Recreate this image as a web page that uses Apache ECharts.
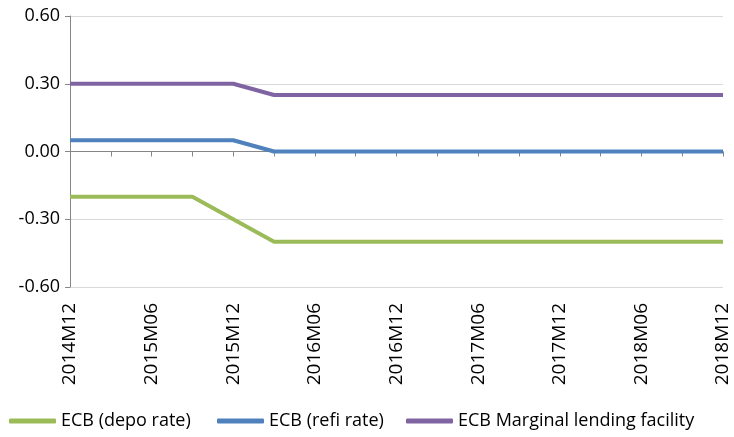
<!DOCTYPE html>
<html><head><meta charset="utf-8">
<script src="https://cdn.jsdelivr.net/npm/echarts@6/dist/echarts.min.js"></script>
<style>html,body{margin:0;padding:0;background:#fff}#c{width:734px;height:437px}</style>
</head><body><div id="c"></div>
<script>
const categories = ['2014M12','2015M03','2015M06','2015M09','2015M12','2016M03','2016M06','2016M09','2016M12','2017M03','2017M06','2017M09','2017M12','2018M03','2018M06','2018M09','2018M12'];
const depoRate = [-0.20,-0.20,-0.20,-0.20,-0.30,-0.40,-0.40,-0.40,-0.40,-0.40,-0.40,-0.40,-0.40,-0.40,-0.40,-0.40,-0.40];
const refiRate = [0.05,0.05,0.05,0.05,0.05,0.00,0.00,0.00,0.00,0.00,0.00,0.00,0.00,0.00,0.00,0.00,0.00];
const mlfRate = [0.30,0.30,0.30,0.30,0.30,0.25,0.25,0.25,0.25,0.25,0.25,0.25,0.25,0.25,0.25,0.25,0.25];
const seriesNames = ['ECB (depo rate)','ECB (refi rate)','ECB Marginal lending facility'];
const colors = ['#9BBB59','#4F81BD','#8064A2'];

const font = '"Open Sans", sans-serif';
const chart = echarts.init(document.getElementById('c'), null, {renderer:'canvas'});
const mk = (name, data, color) => ({
  name, type:'line', data, xAxisIndex:0, symbol:'none', color,
  lineStyle:{width:4, color}, animation:false
});
const legendLefts = [9, 217, 406];
chart.setOption({
  animation:false,
  textStyle:{fontFamily:font},
  grid:{left:70, right:11, top:16, bottom:150, containLabel:false},
  legend: seriesNames.map((n,i)=>({
    top:412, left:legendLefts[i], itemWidth:47, itemHeight:5, icon:'roundRect', padding:0,
    textStyle:{fontFamily:font, fontSize:18, color:'#000'},
    data:[n]
  })),
  xAxis:[{
    type:'category', data:categories, boundaryGap:false,
    axisLine:{onZero:true, lineStyle:{color:'#868686', width:1}},
    axisTick:{show:true, alignWithLabel:true, length:5, interval:0, lineStyle:{color:'#868686'}},
    axisLabel:{show:false},
    splitLine:{show:false}
  },{
    type:'category', data:categories, boundaryGap:false, position:'bottom',
    axisLine:{show:false, onZero:false}, axisTick:{show:false},
    axisLabel:{show:true, interval:1, rotate:90, margin:16, fontSize:19, color:'#000', fontFamily:font},
    splitLine:{show:false}
  }],
  yAxis:{
    type:'value', min:-0.6, max:0.6, interval:0.3,
    axisLine:{show:true, lineStyle:{color:'#868686'}},
    axisTick:{show:true, length:5, lineStyle:{color:'#868686'}},
    axisLabel:{formatter:v=>v.toFixed(2), fontSize:18, color:'#000', margin:10, fontFamily:font},
    splitLine:{show:true, lineStyle:{color:'#D9D9D9', width:1}}
  },
  series:[mk(seriesNames[0], depoRate, colors[0]), mk(seriesNames[1], refiRate, colors[1]), mk(seriesNames[2], mlfRate, colors[2])]
});
</script></body></html>
